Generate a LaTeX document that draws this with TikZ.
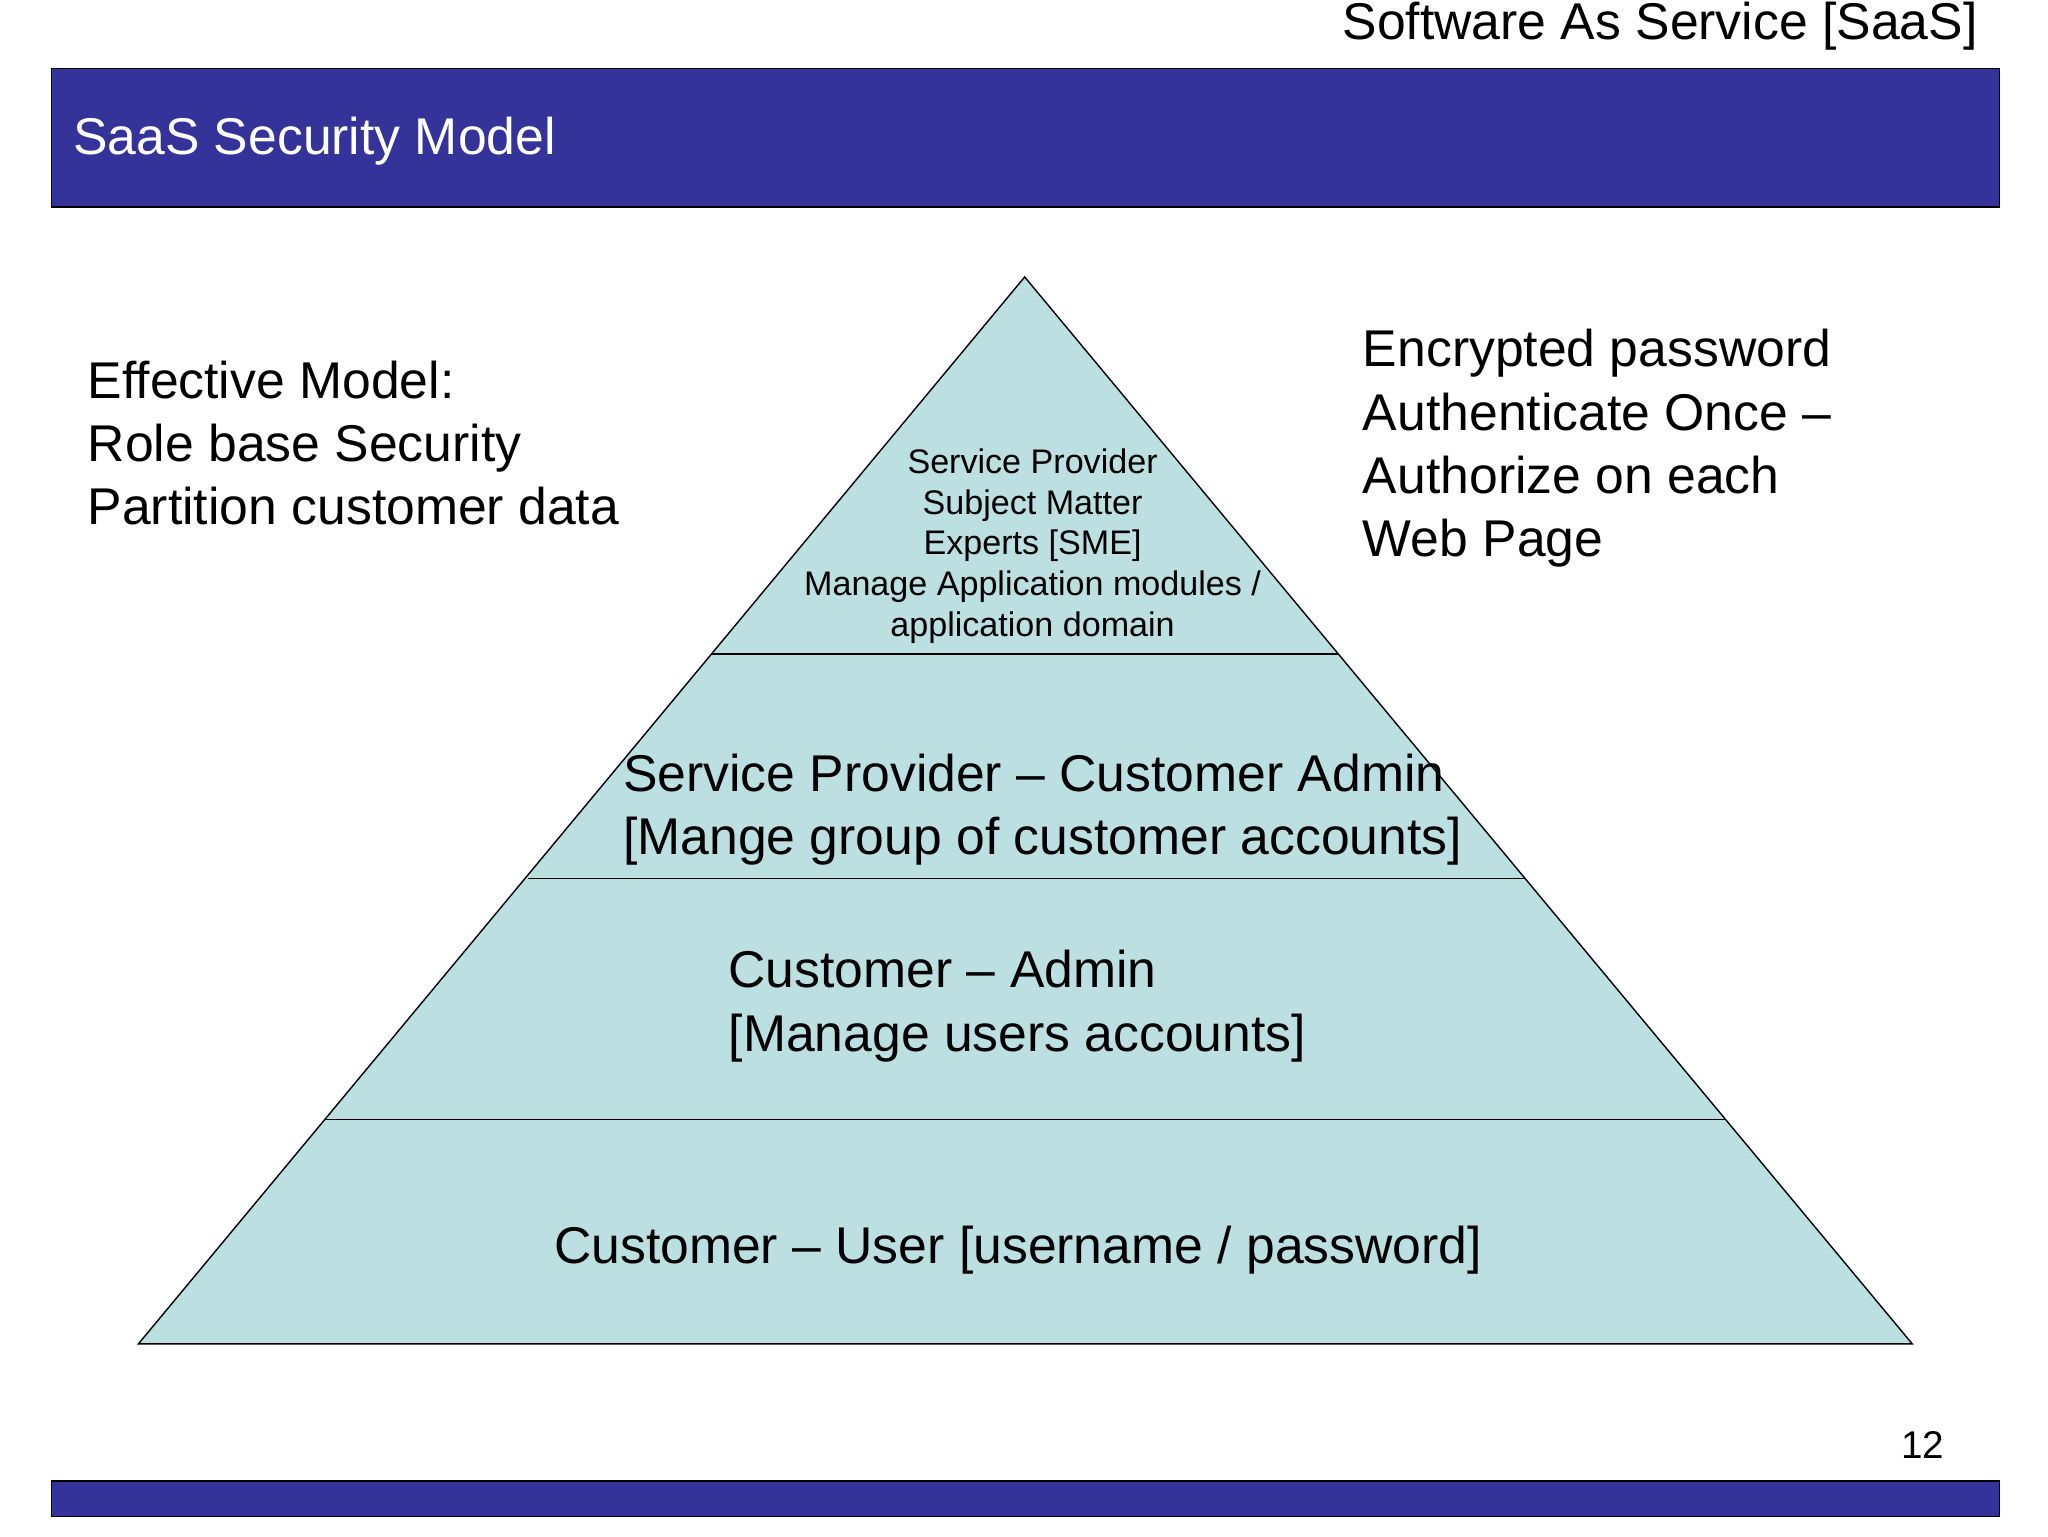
\documentclass[tikz,border=0pt]{standalone}
\usepackage{fontspec}
\setmainfont{Liberation Sans}
\definecolor{bar}{HTML}{333399}
\definecolor{pyr}{HTML}{BCE0E2}
\begin{document}
\begin{tikzpicture}[x=0.013188cm,y=-0.013188cm,
  big/.style={font=\fontsize{14.7}{18}\selectfont,inner sep=0pt},
  small/.style={font=\fontsize{9.7}{11.6}\selectfont,inner sep=0pt,align=center}]
\useasboundingbox (0,0) rectangle (1553,1165);
\node[big,anchor=east] (t) at (1500,20) {Software As Service [SaaS]};
\draw[fill=bar] (39,52) rectangle (1516,157);
\node[big,anchor=west,text=white] (h) at (55,107) {SaaS Security Model};
\draw[fill=bar] (39,1123) rectangle (1516,1150);
\node[font=\fontsize{11}{13}\selectfont,inner sep=0pt] (n) at (1458,1096) {12};
\draw[fill=pyr] (777,210) -- (1450,1019) -- (105,1019) -- cycle;
\draw (539,496) -- (1015,496);
\draw (400,666) -- (1156,666);
\draw (247,849) -- (1308,849);
\node[small] (a) at (783,414) {Service Provider\\Subject Matter\\Experts [SME]\\Manage Application modules /\\application domain};
\node[big,anchor=west,align=left] (b) at (472,614) {Service Provider – Customer Admin\\{[}Mange group of customer accounts]};
\node[big,anchor=west,align=left] (c) at (552,763) {Customer – Admin\\{[}Manage users accounts]};
\node[big] (d) at (772,948) {Customer – User [username / password]};
\node[big,anchor=west,align=left] (l) at (66,336) {Effective Model:\\Role base Security\\Partition customer data};
\node[big,anchor=west,align=left] (r) at (1033,340) {Encrypted password\\Authenticate Once –\\Authorize on each\\Web Page};
\end{tikzpicture}
\end{document}
